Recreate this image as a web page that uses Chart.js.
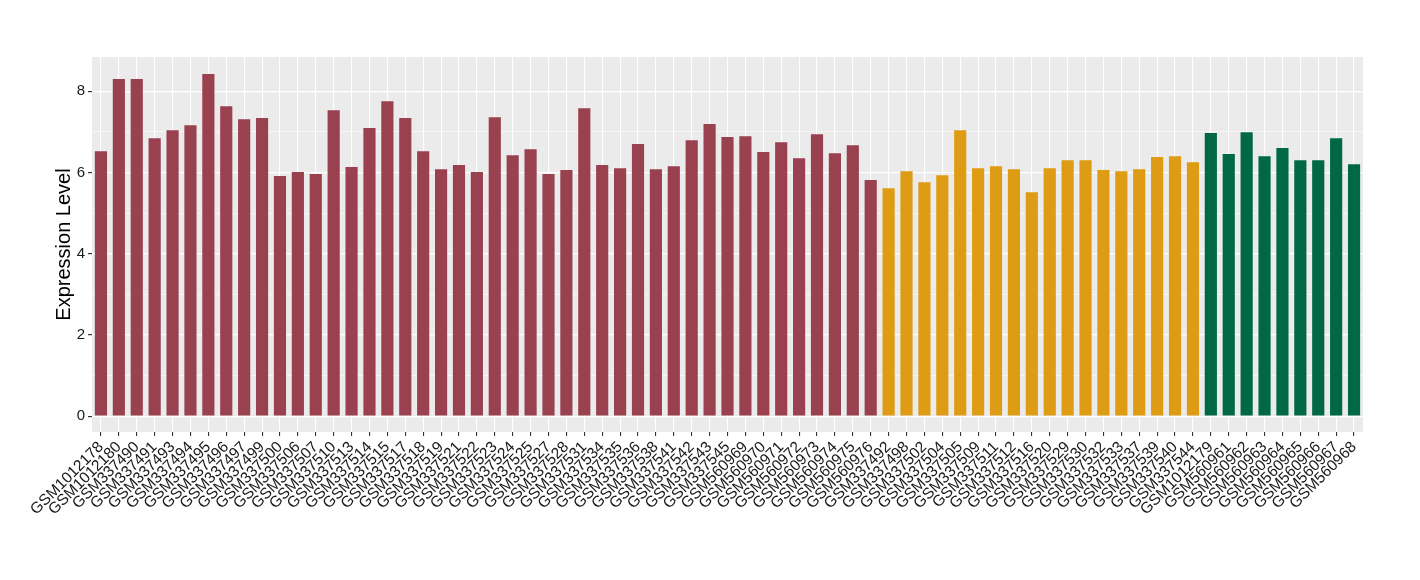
<!DOCTYPE html>
<html>
<head>
<meta charset="utf-8">
<script src="https://cdn.jsdelivr.net/npm/chart.js@4/dist/chart.umd.min.js"></script>
<style>
html,body{margin:0;padding:0;background:#fff;}
#wrap{width:1420px;height:580px;position:relative;}
</style>
</head>
<body>
<div id="wrap"><canvas id="c" width="1420" height="580"></canvas></div>
<script>
const groupALabels = ["GSM1012178","GSM1012180","GSM337490","GSM337491","GSM337493","GSM337494","GSM337495","GSM337496","GSM337497","GSM337499","GSM337500","GSM337506","GSM337507","GSM337510","GSM337513","GSM337514","GSM337515","GSM337517","GSM337518","GSM337519","GSM337521","GSM337522","GSM337523","GSM337524","GSM337525","GSM337527","GSM337528","GSM337531","GSM337534","GSM337535","GSM337536","GSM337538","GSM337541","GSM337542","GSM337543","GSM337545","GSM560969","GSM560970","GSM560971","GSM560972","GSM560973","GSM560974","GSM560975","GSM560976"];
const groupAValues = [6.52,8.30,8.30,6.84,7.04,7.16,8.42,7.63,7.31,7.34,5.91,6.01,5.96,7.53,6.13,7.09,7.75,7.34,6.52,6.08,6.18,6.01,7.36,6.42,6.57,5.96,6.06,7.58,6.18,6.10,6.70,6.08,6.15,6.79,7.19,6.87,6.89,6.50,6.74,6.35,6.94,6.47,6.67,5.81];
const groupBLabels = ["GSM337492","GSM337498","GSM337502","GSM337504","GSM337505","GSM337509","GSM337511","GSM337512","GSM337516","GSM337520","GSM337529","GSM337530","GSM337532","GSM337533","GSM337537","GSM337539","GSM337540","GSM337544"];
const groupBValues = [5.61,6.03,5.76,5.93,7.04,6.10,6.15,6.08,5.51,6.10,6.30,6.30,6.06,6.03,6.08,6.38,6.40,6.25];
const groupCLabels = ["GSM1012179","GSM560961","GSM560962","GSM560963","GSM560964","GSM560965","GSM560966","GSM560967","GSM560968"];
const groupCValues = [6.97,6.45,6.99,6.40,6.60,6.30,6.30,6.84,6.20];
const yTicks = [0,2,4,6,8];

const colorA = "#9A4150", colorB = "#DE9B14", colorC = "#006845";

const labels = groupALabels.concat(groupBLabels, groupCLabels);
const values = groupAValues.concat(groupBValues, groupCValues);
const colors = groupAValues.map(()=>colorA).concat(groupBValues.map(()=>colorB), groupCValues.map(()=>colorC));

const panelBg = {
  id:'panelBg',
  beforeDraw(chart){
    const {ctx, chartArea:a} = chart;
    ctx.save();
    ctx.fillStyle = '#EBEBEB';
    ctx.fillRect(a.left, a.top, a.right-a.left, a.bottom-a.top);
    ctx.restore();
  }
};

const FONT = "'Liberation Sans', Arial, Helvetica, sans-serif";

new Chart(document.getElementById('c'), {
  type:'bar',
  data:{
    labels: labels,
    datasets:[{data: values, backgroundColor: colors, borderWidth:0, categoryPercentage:1.0, barPercentage:0.68}]
  },
  plugins:[panelBg],
  options:{
    responsive:false,
    animation:false,
    devicePixelRatio:1,
    layout:{padding:{top:57,right:57,bottom:0,left:52}},
    plugins:{legend:{display:false}, tooltip:{enabled:false}},
    scales:{
      x:{
        offset:true,
        grid:{offset:false, color:'#FFFFFF', lineWidth:1.1, tickColor:'#333333', tickLength:4},
        border:{display:false},
        ticks:{autoSkip:false, minRotation:45, maxRotation:45, color:'#1a1a1a', padding:2, font:{family:FONT, size:15.5}},
        afterFit(s){ s.height = 148; }
      },
      y:{
        min:-0.39, max:8.84,
        afterBuildTicks(s){ s.ticks = [0,1,2,3,4,5,6,7,8].map(v=>({value:v})); },
        grid:{
          color:'#FFFFFF',
          lineWidth:(c)=> (c.tick && c.tick.value % 2 === 0) ? 1.2 : 0.6,
          tickColor:(c)=> (c.tick && c.tick.value % 2 === 0) ? '#333333' : 'rgba(0,0,0,0)',
          tickLength:4
        },
        border:{display:false},
        ticks:{
          color:'#1a1a1a', padding:3, font:{family:FONT, size:15},
          callback:(v)=> yTicks.includes(v) ? String(v) : ''
        },
        title:{display:true, text:'Expression Level', color:'#000', font:{family:FONT, size:20}, padding:{top:0,bottom:0}},
        afterFit(s){ s.width = 40; }
      }
    }
  }
});
</script>
</body>
</html>
